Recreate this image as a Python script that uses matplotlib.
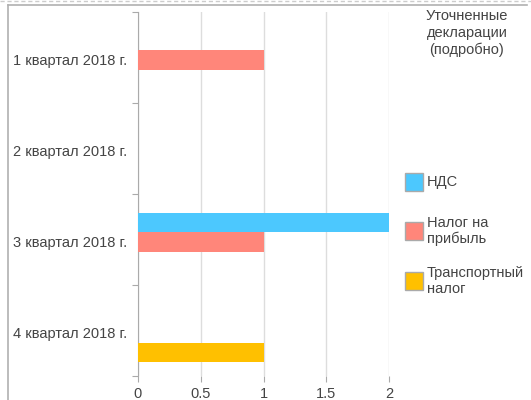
import matplotlib
matplotlib.use("Agg")
import matplotlib.pyplot as plt
from matplotlib.lines import Line2D
from matplotlib.patches import Rectangle
import numpy as np

plt.rcParams['font.family'] = ['Liberation Sans', 'DejaVu Sans']

categories = ["1 квартал 2018 г.", "2 квартал 2018 г.", "3 квартал 2018 г.", "4 квартал 2018 г."]
series_names = ["НДС", "Налог на\nприбыль", "Транспортный\nналог"]
series_values = [
    [0, 0, 2, 0],   # НДС
    [1, 0, 1, 0],   # Налог на прибыль
    [0, 0, 0, 1],   # Транспортный налог
]
series_colors = ["#4CC8FE", "#FF867A", "#FFC000"]
x_ticks = [0, 0.5, 1, 1.5, 2]
x_tick_labels = ["0", "0.5", "1", "1.5", "2"]
legend_title = "Уточненные\nдекларации\n(подробно)"

W, H = 531, 400
fig = plt.figure(figsize=(W / 100, H / 100), dpi=100)

def fx(px):
    return px / W

def fy(py):
    return 1 - py / H

# outer frame
fig.add_artist(Line2D([0, 1], [fy(1), fy(1)], transform=fig.transFigure,
                      color="#cccccc", lw=1, ls=(0, (3, 2))))
fig.add_artist(Line2D([fx(8), fx(527)], [fy(5), fy(5)], transform=fig.transFigure,
                      color="#b0b0b0", lw=1.2))
fig.add_artist(Line2D([fx(8), fx(8)], [fy(5), 0], transform=fig.transFigure,
                      color="#b0b0b0", lw=1.2))

left, right, top, bottom = 138, 389, 12, 376
ax = fig.add_axes([fx(left), fy(bottom), fx(right - left), (bottom - top) / H])

n = len(categories)
y = np.arange(n)
bh = 0.214
offsets = [-bh, 0, bh]
for vals, off, col in zip(series_values, offsets, series_colors):
    ax.barh(y + off + 0.025, vals, height=bh, color=col, zorder=3)

ax.set_xlim(0, 2)
ax.set_ylim(n - 0.5, -0.5)
ax.set_xticks(x_ticks)
ax.set_xticklabels(x_tick_labels)
ax.grid(axis='x', color="#dddddd", lw=1, zorder=0)

ax.set_yticks(np.arange(n + 1) - 0.5)
ax.set_yticklabels([])
ax.set_yticks(y + 0.02, minor=True)
ax.set_yticklabels(categories, minor=True)
ax.tick_params(axis='y', which='major', direction='out', length=4, color="#aaaaaa")
ax.tick_params(axis='y', which='minor', length=0, pad=8, labelsize=10.5, labelcolor="#444444")
ax.tick_params(axis='x', direction='out', length=4, color="#aaaaaa", pad=4,
               labelsize=10.5, labelcolor="#444444")

for s in ['top', 'right', 'bottom']:
    ax.spines[s].set_visible(False)
ax.spines['left'].set_color("#aaaaaa")

# legend (manual placement)
fig.text(fx(467), fy(33), legend_title, ha='center', va='center', fontsize=10.5,
         color="#444444", linespacing=1.25)
legend_y = [182, 231, 281]
for name, col, ly in zip(series_names, series_colors, legend_y):
    fig.add_artist(Rectangle((fx(405), fy(ly + 9)), fx(18), 18 / H, transform=fig.transFigure,
                             facecolor=col, edgecolor="#aaaaaa", lw=1))
    fig.text(fx(427), fy(ly), name, ha='left', va='center', fontsize=10.5,
             color="#444444", linespacing=1.15)

fig.savefig("out.png", dpi=100)
